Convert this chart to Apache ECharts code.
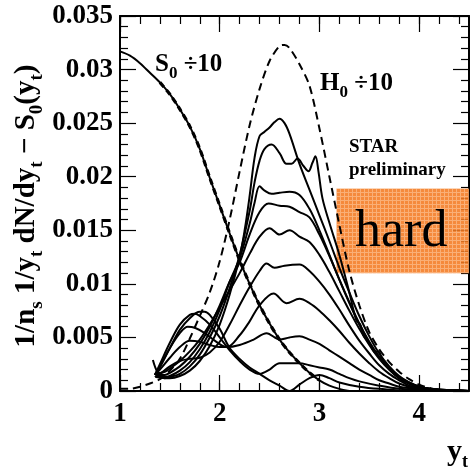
<!DOCTYPE html>
<html><head><meta charset="utf-8">
<script src="https://cdn.jsdelivr.net/npm/echarts@6/dist/echarts.min.js"></script>
<style>html,body{margin:0;padding:0;background:#fff}#c{width:470px;height:469px}</style>
</head><body><div id="c"></div>
<script>
const xTickLabels = ['1','2','3','4'];
const yTickLabels = ['0','0.005','0.01','0.015','0.02','0.025','0.03','0.035'];
const s0Curve = [[1.0,0.0317],[1.1,0.0313],[1.2,0.0306],[1.3,0.0297],[1.4,0.0288],[1.5,0.0277],[1.6,0.0263],[1.7,0.0247],[1.8,0.0226],[1.9,0.0199],[2.0,0.0173],[2.1,0.0147],[2.2,0.0122],[2.3,0.0100],[2.4,0.0080],[2.5,0.0063],[2.6,0.0048],[2.7,0.0036],[2.8,0.0026],[2.9,0.0017],[3.0,0.0010],[3.1,0.0005],[3.2,0.0002],[3.3,0.0]];
const h0Curve = [[1.0,0.0002],[1.1,0.0002],[1.2,0.0004],[1.3,0.0007],[1.4,0.0011],[1.5,0.0019],[1.6,0.0030],[1.7,0.0049],[1.8,0.0070],[1.9,0.0092],[2.0,0.0121],[2.1,0.0160],[2.2,0.0205],[2.3,0.0248],[2.4,0.0282],[2.5,0.0308],[2.6,0.0322],[2.65,0.0323],[2.7,0.0320],[2.8,0.0305],[2.9,0.0285],[3.0,0.0245],[3.1,0.0200],[3.2,0.0155],[3.3,0.0112],[3.4,0.0080],[3.5,0.0055],[3.6,0.0039],[3.7,0.0027],[3.8,0.0018],[3.9,0.0011],[4.0,0.0006],[4.1,0.0003],[4.2,0.0001],[4.3,0.0],[4.5,0.0]];
const curveA = [[1.33,0.0029],[1.38,0.0017],[1.45,0.0012],[1.5,0.0012],[1.6,0.0014],[1.7,0.0019],[1.8,0.0028],[1.9,0.0042],[2.0,0.0062],[2.1,0.0090],[2.2,0.0125],[2.25,0.0150],[2.3,0.0182],[2.35,0.0218],[2.4,0.0238],[2.45,0.0242],[2.5,0.0246],[2.55,0.0251],[2.6,0.0254],[2.65,0.0250],[2.7,0.0240],[2.8,0.0212],[2.9,0.0188],[3.0,0.0164],[3.1,0.0140],[3.2,0.0115],[3.3,0.0092],[3.4,0.0070],[3.5,0.0051],[3.6,0.0035],[3.7,0.0023],[3.8,0.0014],[3.9,0.0008],[4.0,0.0004],[4.1,0.0002],[4.3,0.0001],[4.5,0]];
const curveB = [[1.36,0.0013],[1.45,0.0012],[1.5,0.0013],[1.6,0.0016],[1.7,0.0023],[1.8,0.0034],[1.9,0.0050],[2.0,0.0070],[2.1,0.0096],[2.2,0.0127],[2.3,0.0168],[2.35,0.0195],[2.4,0.0215],[2.45,0.0226],[2.52,0.0230],[2.6,0.0222],[2.67,0.0212],[2.72,0.0212],[2.78,0.0217],[2.84,0.0210],[2.89,0.0205],[2.93,0.0213],[2.96,0.0219],[2.99,0.0205],[3.03,0.0180],[3.1,0.0157],[3.2,0.0127],[3.3,0.0092],[3.37,0.0066],[3.41,0.0062],[3.44,0.0052],[3.5,0.0045],[3.56,0.0036],[3.59,0.0037],[3.63,0.0030],[3.7,0.0021],[3.8,0.0013],[3.9,0.0008],[4.0,0.0004],[4.1,0.0002],[4.3,0.0001],[4.5,0]];
const curveC = [[1.36,0.0014],[1.45,0.0013],[1.5,0.0014],[1.6,0.0019],[1.7,0.0027],[1.8,0.0039],[1.9,0.0055],[2.0,0.0076],[2.1,0.0102],[2.2,0.0124],[2.3,0.0156],[2.35,0.0176],[2.4,0.0191],[2.45,0.0187],[2.52,0.0184],[2.6,0.0185],[2.7,0.0186],[2.8,0.0183],[2.9,0.0170],[3.0,0.0150],[3.1,0.0127],[3.2,0.0104],[3.3,0.0082],[3.4,0.0062],[3.5,0.0045],[3.6,0.0031],[3.7,0.0020],[3.8,0.0012],[3.9,0.0007],[4.0,0.0003],[4.2,0.0001],[4.5,0]];
const curveD = [[1.36,0.0015],[1.45,0.0015],[1.5,0.0017],[1.6,0.0023],[1.7,0.0032],[1.8,0.0044],[1.9,0.0060],[2.0,0.0080],[2.1,0.0102],[2.2,0.0120],[2.3,0.0146],[2.4,0.0167],[2.49,0.0175],[2.6,0.0173],[2.7,0.0172],[2.8,0.0167],[2.9,0.0162],[3.0,0.0146],[3.1,0.0126],[3.2,0.0104],[3.3,0.0083],[3.4,0.0063],[3.5,0.0046],[3.6,0.0032],[3.7,0.0021],[3.8,0.0012],[3.9,0.0007],[4.0,0.0004],[4.2,0.0001],[4.5,0]];
const curveE = [[1.36,0.0016],[1.45,0.0018],[1.5,0.0021],[1.6,0.0028],[1.7,0.0037],[1.8,0.0048],[1.9,0.0062],[2.0,0.0078],[2.1,0.0094],[2.2,0.0110],[2.3,0.0128],[2.4,0.0144],[2.5,0.0152],[2.6,0.0146],[2.7,0.0150],[2.8,0.0144],[2.9,0.0139],[3.0,0.0127],[3.1,0.0111],[3.2,0.0093],[3.3,0.0075],[3.4,0.0058],[3.5,0.0043],[3.6,0.0030],[3.7,0.0020],[3.8,0.0012],[3.9,0.0007],[4.0,0.0004],[4.2,0.0001],[4.5,0]];
const curveF = [[1.35,0.0013],[1.4,0.0016],[1.5,0.0023],[1.6,0.0028],[1.7,0.0030],[1.8,0.0031],[1.9,0.0036],[2.0,0.0046],[2.1,0.0062],[2.2,0.0080],[2.3,0.0097],[2.4,0.0112],[2.47,0.0119],[2.55,0.0115],[2.65,0.0117],[2.8,0.0118],[2.9,0.0112],[3.0,0.0102],[3.1,0.0090],[3.2,0.0076],[3.3,0.0061],[3.4,0.0047],[3.5,0.0035],[3.6,0.0024],[3.7,0.0016],[3.8,0.0010],[3.9,0.0005],[4.0,0.0003],[4.2,0.0001],[4.5,0]];
const curveG = [[1.35,0.0015],[1.4,0.0020],[1.5,0.0031],[1.6,0.0041],[1.7,0.0047],[1.8,0.0046],[1.9,0.0043],[2.0,0.0041],[2.07,0.0041],[2.2,0.0052],[2.3,0.0065],[2.4,0.0080],[2.54,0.0091],[2.67,0.0082],[2.8,0.0086],[2.9,0.0082],[3.0,0.0075],[3.1,0.0066],[3.2,0.0056],[3.3,0.0045],[3.4,0.0035],[3.5,0.0026],[3.6,0.0018],[3.7,0.0012],[3.8,0.0007],[3.9,0.0004],[4.0,0.0002],[4.5,0]];
const curveH = [[1.35,0.0015],[1.4,0.0023],[1.5,0.0040],[1.6,0.0054],[1.68,0.0060],[1.75,0.0059],[1.85,0.0054],[1.95,0.0047],[2.07,0.0041],[2.2,0.0043],[2.34,0.0048],[2.47,0.0054],[2.6,0.0048],[2.7,0.0050],[2.8,0.0051],[2.9,0.0048],[3.0,0.0044],[3.1,0.0038],[3.2,0.0032],[3.3,0.0026],[3.4,0.0020],[3.5,0.0015],[3.6,0.0010],[3.7,0.0007],[3.8,0.0004],[4.0,0.0002],[4.5,0]];
const curveI = [[1.35,0.0015],[1.4,0.0025],[1.5,0.0045],[1.6,0.0062],[1.7,0.0071],[1.75,0.0072],[1.8,0.0070],[1.9,0.0062],[2.0,0.0050],[2.1,0.0038],[2.2,0.0028],[2.3,0.0020],[2.4,0.0016],[2.5,0.0020],[2.6,0.0026],[2.7,0.0026],[2.8,0.0026],[2.9,0.0024],[3.0,0.0022],[3.1,0.0020],[3.2,0.0016],[3.3,0.0012],[3.4,0.0009],[3.6,0.0005],[3.8,0.0002],[4.0,0.0001],[4.5,0]];
const curveJ = [[1.35,0.0015],[1.4,0.0022],[1.5,0.0040],[1.6,0.0057],[1.7,0.0068],[1.8,0.0074],[1.85,0.0074],[1.9,0.0071],[2.0,0.0058],[2.1,0.0040],[2.2,0.0030],[2.3,0.0022],[2.4,0.0016],[2.5,0.0010],[2.6,0.0005],[2.7,0.0000],[2.8,0.0006],[2.9,0.0012],[3.0,0.0015],[3.1,0.0012],[3.2,0.0008],[3.4,0.0004],[3.6,0.0002],[4.0,0.0],[4.5,0]];
const hardBox = [[3.17,0.0189],[4.5,0.0110]];

const FONT = '"Liberation Serif","Times New Roman",serif';
const chart = echarts.init(document.getElementById('c'), null, {renderer:'canvas'});

const pc = document.createElement('canvas');
pc.width = 4; pc.height = 4;
const g = pc.getContext('2d');
g.fillStyle = '#f47a22'; g.fillRect(0,0,4,4);
g.fillStyle = '#faa464'; g.fillRect(0,0,4,1); g.fillRect(0,0,1,4);

const solidCurves = [curveA,curveB,curveC,curveD,curveE,curveF,curveG,curveH,curveI,curveJ];
const series = [];
solidCurves.forEach(c => series.push({type:'line', data:c, smooth:0.35, symbol:'none', lineStyle:{color:'#000', width:2}, z:3}));
series.push({type:'line', data:s0Curve, smooth:0.3, symbol:'none', lineStyle:{color:'#000', width:2}, z:3});
series.push({type:'line', data:s0Curve.filter(p => p[0] >= 1.33 && p[0] <= 3.0), smooth:0.3, symbol:'none', lineStyle:{color:'#000', width:3.2, type:[6,4]}, z:3});
series.push({type:'line', data:h0Curve, smooth:0.3, symbol:'none', lineStyle:{color:'#000', width:2, type:[8,5]}, z:3});
series.push({type:'line', data:[], symbol:'none', z:5,
  markArea:{silent:true, itemStyle:{color:{image:pc, repeat:'repeat'}, opacity:0.88}, data:[[{coord:hardBox[0]},{coord:hardBox[1]}]]}});

const axisCommon = {type:'value', min:1, max:4.5};
const yCommon = {type:'value', min:0, max:0.035, interval:0.005};
const rich = {
  b:{fontFamily:FONT, fontWeight:'bold', fontSize:25, lineHeight:34, verticalAlign:'middle'},
  s:{fontFamily:FONT, fontWeight:'bold', fontSize:17, lineHeight:16, verticalAlign:'bottom'}
};
const richY = {
  b:{fontFamily:FONT, fontWeight:'bold', fontSize:29, lineHeight:40, verticalAlign:'middle'},
  s:{fontFamily:FONT, fontWeight:'bold', fontSize:19, lineHeight:19, verticalAlign:'bottom'}
};

chart.setOption({
  animation:false,
  backgroundColor:'#fff',
  grid:{left:120, top:16, width:349, height:375, containLabel:false},
  xAxis:[
    Object.assign({}, axisCommon, {position:'bottom', interval:1, axisLine:{show:true, lineStyle:{color:'#000', width:2}},
      axisTick:{show:true, inside:true, length:16, lineStyle:{color:'#000', width:1.2}},
      axisLabel:{show:true, margin:10, color:'#000', fontFamily:FONT, fontWeight:'bold', fontSize:27, showMaxLabel:false,
        formatter:(v)=>{const i=Math.round(v)-1; return (Math.abs(v-Math.round(v))<1e-6 && xTickLabels[i]) ? xTickLabels[i] : '';}},
      splitLine:{show:false}}),
    Object.assign({}, axisCommon, {position:'bottom', interval:0.2, axisLine:{show:false},
      axisTick:{show:true, inside:true, length:8, lineStyle:{color:'#000', width:1.2}}, axisLabel:{show:false}, splitLine:{show:false}}),
    Object.assign({}, axisCommon, {position:'top', interval:1, axisLine:{show:true, lineStyle:{color:'#000', width:2}},
      axisTick:{show:true, inside:true, length:16, lineStyle:{color:'#000', width:1.2}}, axisLabel:{show:false}, splitLine:{show:false}}),
    Object.assign({}, axisCommon, {position:'top', interval:0.2, axisLine:{show:false},
      axisTick:{show:true, inside:true, length:8, lineStyle:{color:'#000', width:1.2}}, axisLabel:{show:false}, splitLine:{show:false}})
  ],
  yAxis:[
    Object.assign({}, yCommon, {position:'left', axisLine:{show:true, lineStyle:{color:'#000', width:2}},
      axisTick:{show:true, inside:true, length:16, lineStyle:{color:'#000', width:1.2}},
      minorTick:{show:true, splitNumber:5, length:8, lineStyle:{color:'#000', width:1.2}},
      axisLabel:{show:true, margin:7, color:'#000', fontFamily:FONT, fontWeight:'bold', fontSize:27,
        formatter:(v)=>{const i=Math.round(v/0.005); return yTickLabels[i] || '';}},
      splitLine:{show:false}, minorSplitLine:{show:false}}),
    Object.assign({}, yCommon, {position:'right', axisLine:{show:true, lineStyle:{color:'#000', width:2}},
      axisTick:{show:true, inside:true, length:16, lineStyle:{color:'#000', width:1.2}},
      minorTick:{show:true, splitNumber:5, length:8, lineStyle:{color:'#000', width:1.2}},
      axisLabel:{show:false}, splitLine:{show:false}, minorSplitLine:{show:false}})
  ],
  series: series,
  graphic:[
    {type:'text', x:27, y:206, rotation:Math.PI/2, z:10, style:{text:'{b|1/n}{s|s}{b| 1/y}{s|t}{b| dN/dy}{s|t}{b| − S}{s|0}{b|(y}{s|t}{b|)}', rich:richY, textAlign:'center', textVerticalAlign:'middle'}},
    {type:'text', x:468, y:452, z:10, style:{text:'{b|y}{s|t}', rich:{b:{fontFamily:FONT, fontWeight:'bold', fontSize:30, lineHeight:38, verticalAlign:'middle'}, s:{fontFamily:FONT, fontWeight:'bold', fontSize:18, lineHeight:18, verticalAlign:'bottom'}}, textAlign:'right', textVerticalAlign:'middle'}},
    {type:'text', x:155, y:65, z:10, style:{text:'{b|S}{s|0}{b| ÷10}', rich:rich, textAlign:'left', textVerticalAlign:'middle'}},
    {type:'text', x:320, y:84, z:10, style:{text:'{b|H}{s|0}{b| ÷10}', rich:rich, textAlign:'left', textVerticalAlign:'middle'}},
    {type:'text', x:349, y:147, z:10, style:{text:'STAR', font:'bold 19px '+FONT, fill:'#000', textAlign:'left', textVerticalAlign:'middle'}},
    {type:'text', x:349, y:170, z:10, style:{text:'preliminary', font:'bold 19px '+FONT, fill:'#000', textAlign:'left', textVerticalAlign:'middle'}},
    {type:'text', x:355, y:232, z:10, style:{text:'hard', font:'52px '+FONT, fill:'#000', textAlign:'left', textVerticalAlign:'middle'}}
  ]
});
</script></body></html>
